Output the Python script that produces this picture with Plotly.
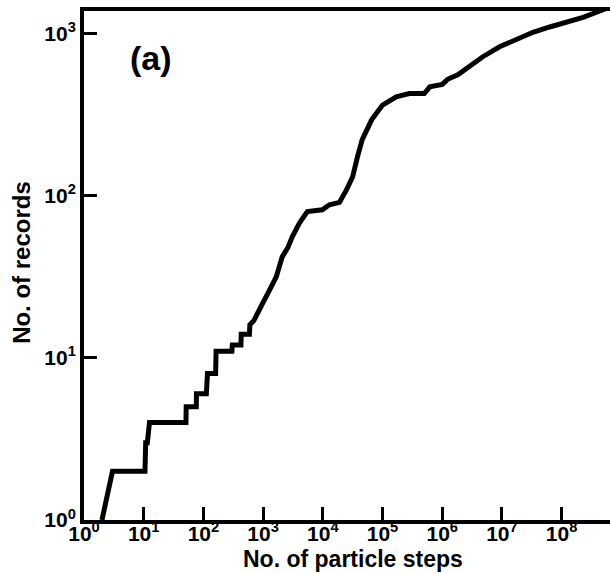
import plotly.graph_objects as go

# Record count vs number of particle steps
steps = [2, 3, 10.5, 10.8, 11.5, 12.5, 51, 51.5, 76, 76.5, 112, 117, 160, 163,
         300, 305, 425, 430, 590, 600, 700, 800, 1000, 1200, 1400, 1660, 2090,
         2600, 3090, 4070, 5500, 7000, 9800, 12900, 19000, 25000, 31600, 38000,
         45700, 66000, 100000, 170000, 280000, 500000, 620000, 1000000, 1230000,
         1820000, 2570000, 4790000, 9120000, 17800000, 33100000, 63100000,
         123000000, 229000000, 436000000, 700000000]
records = [1, 2, 2, 3, 3, 4, 4, 5, 5, 6, 6, 8, 8, 11,
           11, 12, 12, 14, 14, 16, 17, 19, 22, 25, 28, 31.6, 42,
           48, 56, 68, 80, 81, 82, 88, 91, 109, 131, 174,
           222, 295, 363, 408, 427, 427, 470, 487, 523,
           558, 616, 721, 830, 916, 1020, 1100,
           1180, 1260, 1380, 1480]

x_tickvals = [10 ** k for k in range(9)]
x_ticktext = ["10<sup>%d</sup>" % k for k in range(9)]
y_tickvals = [1, 10, 100, 1000]
y_ticktext = ["10<sup>%d</sup>" % k for k in range(4)]

font_family = "Liberation Sans, Arial, sans-serif"

fig = go.Figure()
fig.add_trace(go.Scatter(x=steps, y=records, mode="lines",
                         line=dict(color="black", width=5),
                         showlegend=False, hoverinfo="skip"))

fig.update_layout(
    width=610, height=573,
    margin=dict(l=84, r=0, t=11, b=53),
    paper_bgcolor="white", plot_bgcolor="white",
    font=dict(family=font_family, color="black"),
    xaxis=dict(type="log", range=[0, 8.81], tickvals=x_tickvals, ticktext=x_ticktext,
               ticks="inside", ticklen=13, tickwidth=3, tickcolor="black",
               showline=True, linewidth=4, linecolor="black", mirror=True,
               showgrid=False, zeroline=False, ticklabelstandoff=-8,
               tickfont=dict(size=21, family=font_family, weight="bold")),
    yaxis=dict(type="log", range=[0, 3.14], tickvals=y_tickvals, ticktext=y_ticktext,
               ticks="inside", ticklen=13, tickwidth=3, tickcolor="black",
               showline=True, linewidth=4, linecolor="black", mirror=False,
               showgrid=False, zeroline=False,
               tickfont=dict(size=21, family=font_family, weight="bold")),
    annotations=[
        dict(text="(a)", xref="paper", yref="paper", x=0.127, y=0.908,
             xanchor="center", yanchor="middle", showarrow=False,
             font=dict(size=34, family=font_family, weight="bold", color="black")),
        dict(text="No. of particle steps", xref="paper", yref="paper",
             x=0.511, y=-0.076, xanchor="center", yanchor="middle", showarrow=False,
             font=dict(size=23, family=font_family, weight="bold", color="black")),
        dict(text="No. of records", xref="paper", yref="paper",
             x=-0.118, y=0.507, xanchor="center", yanchor="middle", showarrow=False,
             textangle=-90,
             font=dict(size=24, family=font_family, weight="bold", color="black")),
    ],
)

fig.write_html("out.html")
